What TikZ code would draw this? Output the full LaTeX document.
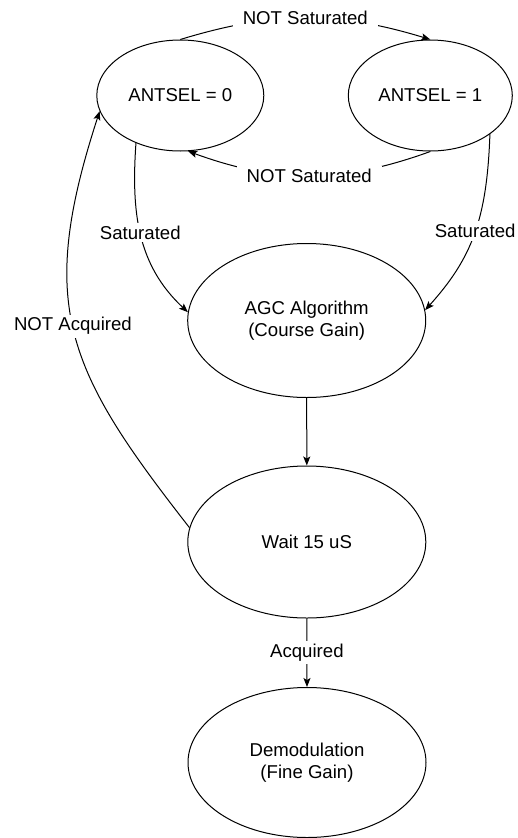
\documentclass[tikz,border=0pt]{standalone}
\usepackage{fontspec}
\setmainfont{Liberation Sans}
\usetikzlibrary{arrows.meta,shapes.geometric}
\begin{document}
\begin{tikzpicture}[x=1pt,y=-1pt,
  state/.style={draw,ellipse,line width=1pt,inner sep=0pt,align=center,font=\fontsize{18.6}{21.5}\selectfont},
  lbl/.style={fill=white,inner xsep=10pt,inner ysep=3pt,font=\fontsize{18.6}{21.5}\selectfont},
  conn/.style={line width=1pt,-{Stealth[length=9pt,width=7pt,inset=2pt]}}]
\useasboundingbox (0,0) rectangle (518,838);
\node[state,minimum width=167pt,minimum height=111pt] (a) at (180.3,95.5) {ANTSEL = 0};
\node[state,minimum width=164pt,minimum height=111pt] (b) at (430.3,95.5) {ANTSEL = 1};
\node[state,minimum width=238pt,minimum height=154pt] (c) at (306.7,320.5) {AGC Algorithm\\(Course Gain)};
\node[state,minimum width=238pt,minimum height=152pt] (d) at (306.8,542) {Wait 15 uS};
\node[state,minimum width=238pt,minimum height=150pt] (e) at (307,762.5) {Demodulation\\(Fine Gain)};
\draw[conn] (a.north) to[bend left=17] node[lbl]{NOT Saturated} (b.north);
\draw[conn] (b.south) to[bend left=20] node[lbl]{NOT Saturated} (a.-82);
\draw[conn] (a.-133) to[out=-94,in=137] node[pos=0.48,lbl]{Saturated} (c.176);
\draw[conn] (b.-33) .. controls +(-92:85pt) and +(48:70pt) .. node[pos=0.48,lbl]{Saturated} (c.5);
\draw[conn] (d.173) .. controls +(128:200pt) and +(252:205pt) .. node[pos=0.52,lbl]{NOT Acquired} (a.-169);
\draw[conn] (c.south) -- (d.north);
\draw[conn] (d.south) -- node[lbl]{Acquired} (e.north);
\end{tikzpicture}
\end{document}
